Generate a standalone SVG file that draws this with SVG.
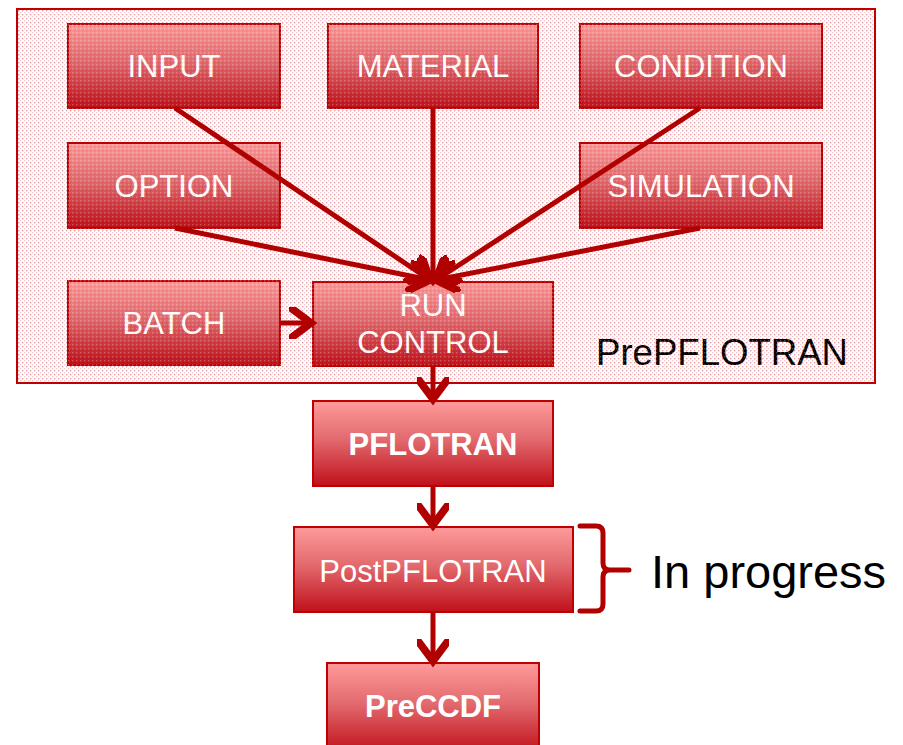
<svg xmlns="http://www.w3.org/2000/svg" width="903" height="745" viewBox="0 0 903 745">
  <style>
    .box { stroke: #c00000; stroke-width: 2; fill: url(#boxFill); }
    .lbl { font-family: "Liberation Sans", Arial, sans-serif; font-size: 31px; fill: #ffffff; text-anchor: middle; }
    .bold { font-weight: bold; }
    .edge { stroke: #b00000; stroke-width: 5; fill: none; }
    .dark { font-family: "Liberation Sans", Arial, sans-serif; fill: #000000; }
  </style>
  <defs>
    <linearGradient id="boxFill" x1="0" y1="0" x2="0" y2="1">
      <stop offset="0" stop-color="#ff9a9a"/>
      <stop offset="0.45" stop-color="#e26a6e"/>
      <stop offset="1" stop-color="#c0101a"/>
    </linearGradient>
    <pattern id="dots" width="4" height="4" patternUnits="userSpaceOnUse">
      <rect x="0" y="0" width="1.3" height="1.3" fill="#e07080"/>
      <rect x="2" y="2" width="1.3" height="1.3" fill="#e07080"/>
    </pattern>
    <pattern id="dotsOver" width="4" height="4" patternUnits="userSpaceOnUse">
      <rect x="0" y="0" width="1.4" height="1.4" fill="#ffffff" fill-opacity="0.25"/>
      <rect x="2" y="2" width="1.4" height="1.4" fill="#800000" fill-opacity="0.15"/>
    </pattern>
    <marker id="chev" markerUnits="userSpaceOnUse" markerWidth="32" markerHeight="32" refX="14" refY="10" orient="auto" viewBox="0 0 20 20">
      <path d="M2,1 L14,10 L2,19" fill="none" stroke="#b00000" stroke-width="4.8" stroke-linecap="round" stroke-linejoin="miter"/>
    </marker>
  </defs>

  <!-- PrePFLOTRAN container -->
  <g id="prepflotran">
    <rect x="17" y="9" width="858" height="374" fill="#ffffff" stroke="#c00000" stroke-width="2"/>
    <rect x="18" y="10" width="856" height="372" fill="url(#dots)" opacity="0.5"/>
    <text class="dark" x="596" y="365" font-size="36.6">PrePFLOTRAN</text>
  </g>

  <g id="input">
    <rect class="box" x="68" y="24" width="212" height="84"/>
    <text class="lbl" x="174" y="77">INPUT</text>
  </g>
  <g id="material">
    <rect class="box" x="328" y="24" width="210" height="84"/>
    <text class="lbl" x="433" y="77">MATERIAL</text>
  </g>
  <g id="condition">
    <rect class="box" x="580" y="24" width="242" height="84"/>
    <text class="lbl" x="701" y="77">CONDITION</text>
  </g>
  <g id="option">
    <rect class="box" x="68" y="143" width="212" height="85"/>
    <text class="lbl" x="174" y="197">OPTION</text>
  </g>
  <g id="simulation">
    <rect class="box" x="580" y="143" width="242" height="85"/>
    <text class="lbl" x="701" y="197">SIMULATION</text>
  </g>
  <g id="batch">
    <rect class="box" x="68" y="281" width="212" height="84"/>
    <text class="lbl" x="174" y="334">BATCH</text>
  </g>
  <g id="runcontrol">
    <rect class="box" x="313" y="282" width="240" height="84"/>
    <text class="lbl" x="433" y="316">RUN</text>
    <text class="lbl" x="433" y="353">CONTROL</text>
  </g>

  <!-- dotted texture over the grouped area -->
  <rect x="18" y="10" width="856" height="372" fill="url(#dotsOver)" pointer-events="none"/>

  <g id="pflotran">
    <rect class="box" x="313" y="401" width="240" height="85"/>
    <text class="lbl bold" x="433" y="455">PFLOTRAN</text>
  </g>
  <g id="postpflotran">
    <rect class="box" x="294" y="527" width="279" height="85"/>
    <text class="lbl" x="433" y="582">PostPFLOTRAN</text>
  </g>
  <g id="preccdf">
    <rect class="box" x="327" y="663" width="212" height="90"/>
    <text class="lbl bold" x="433" y="717">PreCCDF</text>
  </g>

  <g id="connectors">
    <line class="edge" x1="175" y1="108" x2="430" y2="280" marker-end="url(#chev)"/>
    <line class="edge" x1="433" y1="108" x2="433" y2="280" marker-end="url(#chev)"/>
    <line class="edge" x1="700" y1="108" x2="436" y2="280" marker-end="url(#chev)"/>
    <line class="edge" x1="175" y1="228" x2="430" y2="280" marker-end="url(#chev)"/>
    <line class="edge" x1="700" y1="228" x2="436" y2="280" marker-end="url(#chev)"/>
    <line class="edge" x1="280" y1="323" x2="311" y2="323" marker-end="url(#chev)"/>
    <line class="edge" x1="433" y1="366" x2="433" y2="399" marker-end="url(#chev)"/>
    <line class="edge" x1="433" y1="486" x2="433" y2="525" marker-end="url(#chev)"/>
    <line class="edge" x1="433" y1="612" x2="433" y2="661" marker-end="url(#chev)"/>
  </g>

  <g id="inprogress">
    <path class="edge" d="M580,526 L596,526 Q603,526 603,533 L603,563 Q603,570 610,570 L629,570 M610,570 Q603,570 603,577 L603,604 Q603,611 596,611 L580,611" stroke-linecap="round"/>
    <text class="dark" x="651" y="588" font-size="47">In progress</text>
  </g>
</svg>
